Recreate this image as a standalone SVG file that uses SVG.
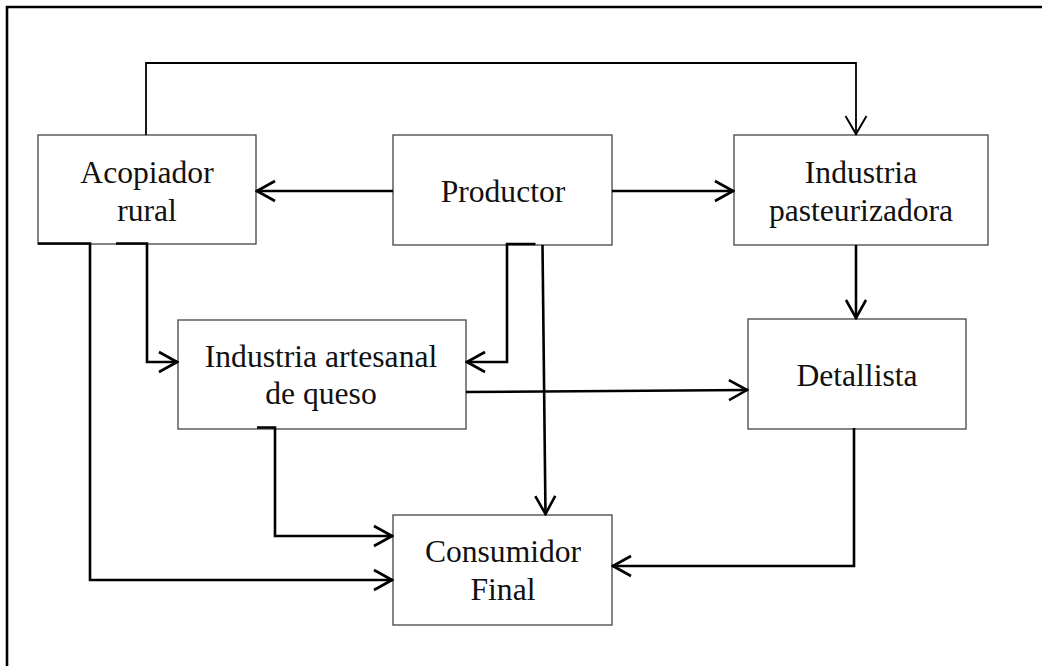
<svg xmlns="http://www.w3.org/2000/svg" width="1042" height="666" viewBox="0 0 1042 666">
<style>
.box{fill:#fff;stroke:#444;stroke-width:1.3}
.lbl{font-family:"Liberation Serif","Times New Roman",serif;font-size:31.6px;fill:#111;text-anchor:middle}
.c{fill:none;stroke:#000;stroke-width:2.6}
.ct{fill:none;stroke:#000;stroke-width:1.8}
</style>
<defs>
<marker id="arr" viewBox="-21 -12 23 24" refX="1" refY="0" markerWidth="23" markerHeight="24" markerUnits="userSpaceOnUse" orient="auto">
<path d="M-18,-10 L0,0 L-18,10" fill="none" stroke="#000" stroke-width="2.6"/>
</marker>
<marker id="arrt" viewBox="-21 -12 23 24" refX="1" refY="0" markerWidth="23" markerHeight="24" markerUnits="userSpaceOnUse" orient="auto">
<path d="M-18,-10.5 L0,0 L-18,10.5" fill="none" stroke="#000" stroke-width="1.9"/>
</marker>
</defs>
<rect width="1042" height="666" fill="#fff"/>
<polyline points="7,666 7,7 1042,7" fill="none" stroke="#000" stroke-width="2.6"/>

<g id="acopiador">
<rect class="box" x="38" y="135" width="218" height="109"/>
<text class="lbl" x="147" y="183">Acopiador</text>
<text class="lbl" x="147" y="221">rural</text>
</g>
<g id="productor">
<rect class="box" x="393" y="135" width="219" height="110"/>
<text class="lbl" x="503" y="202">Productor</text>
</g>
<g id="pasteurizadora">
<rect class="box" x="734" y="135" width="254" height="110"/>
<text class="lbl" x="861" y="183">Industria</text>
<text class="lbl" x="861" y="221">pasteurizadora</text>
</g>
<g id="artesanal">
<rect class="box" x="178" y="320" width="288" height="109"/>
<text class="lbl" x="321" y="367">Industria artesanal</text>
<text class="lbl" x="321" y="404">de queso</text>
</g>
<g id="detallista">
<rect class="box" x="748" y="319" width="218" height="110"/>
<text class="lbl" x="857" y="386">Detallista</text>
</g>
<g id="consumidor">
<rect class="box" x="393" y="515" width="219" height="110"/>
<text class="lbl" x="503" y="562">Consumidor</text>
<text class="lbl" x="503" y="600">Final</text>
</g>

<g id="connectors">
<polyline class="ct" points="146,135 146,63 856,63 856,135" marker-end="url(#arrt)"/>
<line class="c" x1="393" y1="191" x2="256" y2="191" marker-end="url(#arr)"/>
<line class="c" x1="612" y1="191" x2="734" y2="191" marker-end="url(#arr)"/>
<line class="c" x1="856" y1="245" x2="856" y2="319" marker-end="url(#arr)"/>
<polyline class="c" points="116,243.5 147,243.5 147,362 178,362" marker-end="url(#arr)"/>
<polyline class="c" points="38,243.5 90,243.5 90,580 393,580" marker-end="url(#arr)"/>
<polyline class="c" points="535.5,244 507,244 507,362 466,362" marker-end="url(#arr)"/>
<line class="c" x1="542.5" y1="245" x2="545.5" y2="515" marker-end="url(#arr)"/>
<line class="c" x1="466" y1="392" x2="748" y2="390" marker-end="url(#arr)"/>
<polyline class="c" points="257,427.5 275,427.5 275,536 393,536" marker-end="url(#arr)"/>
<polyline class="c" points="854,428 854,566 612,566" marker-end="url(#arr)"/>
</g>
</svg>
